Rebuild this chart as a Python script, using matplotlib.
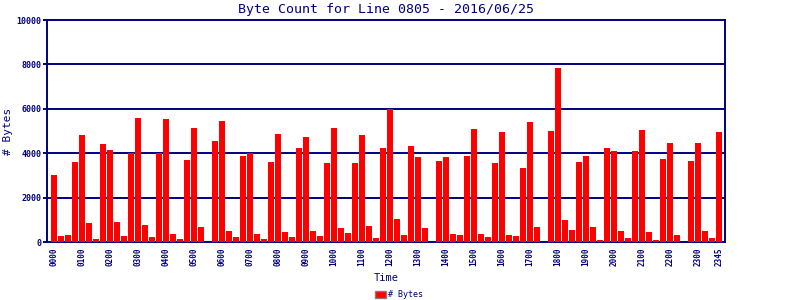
import numpy as np
import matplotlib
matplotlib.use("Agg")
import matplotlib.pyplot as plt
from matplotlib.patches import Patch

# byte counts, one per 15 minute slot (0000 .. 2345)
byte_counts = [
    3000, 280, 320, 3610, 4830, 865, 145, 4420,
    4150, 905, 280, 4000, 5600, 770, 235, 4000,
    5555, 370, 145, 3700, 5150, 685, 0, 4555,
    5470, 505, 230, 3875, 4000, 360, 140, 3610,
    4870, 465, 240, 4250, 4745, 510, 285, 3575,
    5150, 645, 420, 3575, 4835, 735, 195, 4250,
    5990, 1050, 330, 4340, 3845, 645, 0, 3665,
    3845, 375, 330, 3890, 5105, 375, 240, 3575,
    4970, 330, 285, 3350, 5420, 690, 0, 5015,
    7850, 1005, 555, 3620, 3890, 690, 105, 4250,
    4115, 510, 195, 4115, 5060, 465, 105, 3755,
    4475, 330, 0, 3665, 4475, 510, 195, 4970,
]
times = ["%02d%02d" % (i // 4, (i % 4) * 15) for i in range(96)]
tick_idx = list(range(0, 96, 4)) + [95]
y_ticks = [0, 2000, 4000, 6000, 8000, 10000]

navy = "#000080"
mono = "DejaVu Sans Mono"

fig = plt.figure(figsize=(8, 3), dpi=100)
ax = fig.add_axes([47 / 800, 58 / 300, 678 / 800, 222 / 300])

x = np.arange(len(byte_counts))
ax.bar(x, byte_counts, width=6 / 7, color="#ff0000", zorder=3)

ax.set_xlim(-1, 95.86)
ax.set_ylim(0, 10000)

# horizontal grid lines
for v in y_ticks[1:-1]:
    ax.axhline(v, color=navy, lw=1.4, zorder=2)

for s in ax.spines.values():
    s.set_color(navy)
    s.set_linewidth(1.4)

ax.set_yticks(y_ticks)
ax.set_yticklabels([str(v) for v in y_ticks], family=mono, fontsize=6,
                   fontweight="bold", color=navy)
ax.tick_params(axis="y", direction="out", length=3, width=1.4, color=navy, pad=1)

ax.set_xticks(tick_idx)
ax.set_xticklabels([times[i] for i in tick_idx], rotation=90, family=mono,
                   fontsize=5.5, fontweight="bold", color=navy)
ax.tick_params(axis="x", length=0, pad=4)

ax.set_title("Byte Count for Line 0805 - 2016/06/25", family=mono,
             fontsize=9.5, color=navy, pad=5)
ax.set_xlabel("Time", family=mono, fontsize=7.5, color=navy, labelpad=5)
# y label placed by hand so it stays inside the figure
fig.text(8 / 800, 1 - 131 / 300, "# Bytes", rotation=90, ha="center", va="center",
         family=mono, fontsize=8, color=navy)

handle = Patch(facecolor="#ff0000", edgecolor="#808080", linewidth=1, label="# Bytes")
fig.legend(handles=[handle], loc="center", bbox_to_anchor=(0.499, 0.017),
           frameon=False, prop={"family": mono, "size": 6},
           handlelength=1.3, handleheight=0.9, handletextpad=0.3,
           labelcolor=navy, borderpad=0)

fig.savefig("out.png", dpi=100)
